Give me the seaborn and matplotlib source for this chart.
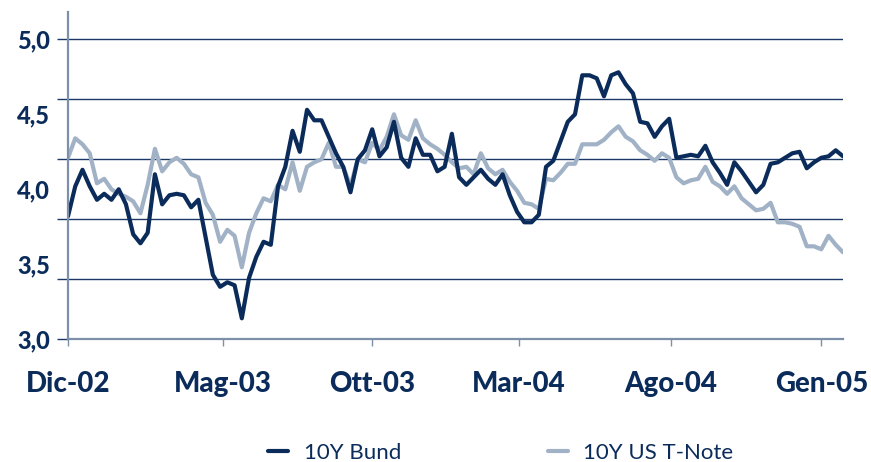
import numpy as np
import pandas as pd
import matplotlib
matplotlib.use("Agg")
import matplotlib.pyplot as plt
from matplotlib import font_manager
import seaborn as sns

# ---- data (weekly 10Y yields) ----
series_names = ["10Y Bund", "10Y US T-Note"]

bund = [3.82, 4.02, 4.13, 4.02, 3.93, 3.97, 3.93, 4.00, 3.90, 3.70,
        3.64, 3.71, 4.10, 3.90, 3.96, 3.97, 3.96, 3.88, 3.93, 3.68,
        3.43, 3.35, 3.38, 3.36, 3.14, 3.41, 3.55, 3.65, 3.63, 4.02,
        4.15, 4.39, 4.25, 4.53, 4.46, 4.46, 4.35, 4.24, 4.15, 3.98,
        4.20, 4.26, 4.40, 4.22, 4.28, 4.45, 4.21, 4.15, 4.34, 4.23,
        4.23, 4.12, 4.15, 4.37, 4.08, 4.03, 4.08, 4.13, 4.07, 4.03,
        4.10, 3.96, 3.85, 3.78, 3.78, 3.83, 4.15, 4.19, 4.32, 4.45,
        4.50, 4.76, 4.76, 4.74, 4.62, 4.76, 4.78, 4.70, 4.64, 4.45,
        4.44, 4.35, 4.42, 4.47, 4.21, 4.22, 4.23, 4.22, 4.29, 4.18,
        4.11, 4.03, 4.18, 4.12, 4.05, 3.98, 4.03, 4.17, 4.18, 4.21,
        4.24, 4.25, 4.14, 4.18, 4.21, 4.22, 4.26, 4.22]

tnote = [4.21, 4.34, 4.30, 4.24, 4.04, 4.07, 4.00, 3.97, 3.95, 3.92,
         3.84, 4.03, 4.27, 4.12, 4.18, 4.21, 4.17, 4.10, 4.08, 3.91,
         3.83, 3.65, 3.73, 3.69, 3.48, 3.71, 3.84, 3.94, 3.92, 4.03,
         4.00, 4.18, 3.99, 4.15, 4.18, 4.20, 4.31, 4.15, 4.15, 4.02,
         4.20, 4.18, 4.31, 4.26, 4.35, 4.50, 4.36, 4.33, 4.46, 4.34,
         4.30, 4.27, 4.23, 4.18, 4.14, 4.15, 4.10, 4.24, 4.14, 4.10,
         4.13, 4.05, 3.99, 3.91, 3.90, 3.87, 4.07, 4.06, 4.11, 4.17,
         4.17, 4.30, 4.30, 4.30, 4.33, 4.38, 4.42, 4.35, 4.32, 4.26,
         4.23, 4.19, 4.24, 4.21, 4.08, 4.04, 4.06, 4.07, 4.15, 4.05,
         4.02, 3.97, 4.02, 3.94, 3.90, 3.86, 3.87, 3.91, 3.78, 3.78,
         3.77, 3.75, 3.62, 3.62, 3.60, 3.69, 3.63, 3.58]

x_tick_labels = ["Dic-02", "Mag-03", "Ott-03", "Mar-04", "Ago-04", "Gen-05"]
x_tick_weeks = [0, 21.35, 42.03, 62.29, 83.28, 104.0]
y_tick_labels = ["3,0", "3,5", "4,0", "4,5", "5,0"]
y_tick_values = [3.0, 3.5, 4.0, 4.5, 5.0]
grid_values = [3.0, 3.4, 3.8, 4.2, 4.6, 5.0]

# ---- styling ----
NAVY = "#0b2c5b"
LIGHT = "#a1b2c6"
GRID = "#1c3866"
SPINE = "#7d90aa"

# heaviest Lato weight actually installed (black if present, else bold)
label_weight = "bold"
try:
    p = font_manager.findfont(font_manager.FontProperties(family="Lato", weight=900),
                              fallback_to_default=False)
    if "black" in p.lower() or "heavy" in p.lower():
        label_weight = 900
except Exception:
    pass

n = len(bund)
weeks = np.arange(n)
df = pd.DataFrame({
    "week": np.concatenate([weeks, weeks]),
    "yield": bund + tnote,
    "series": [series_names[0]] * n + [series_names[1]] * n,
})

sns.set_style("white")
plt.rcParams["font.family"] = ["Lato", "DejaVu Sans"]

W, H = 871, 462
fig = plt.figure(figsize=(W / 100, H / 100), dpi=100)
left, right, top, bottom = 68, 843, 12.3, 339.3
ax = fig.add_axes([left / W, (H - bottom) / H, (right - left) / W, (bottom - top) / H])
ax.yaxis.remove_overlapping_locs = False

sns.lineplot(data=df, x="week", y="yield", hue="series",
             hue_order=[series_names[1], series_names[0]],
             palette={series_names[0]: NAVY, series_names[1]: LIGHT},
             linewidth=3.0, ax=ax, legend=False)

ax.set_xlim(0, n - 1)
ax.set_ylim(3.0, 5.18)
ax.set_xlabel("")
ax.set_ylabel("")

# y axis: gridlines every 0.4, labels every 0.5
ax.set_yticks(grid_values)
ax.set_yticklabels([""] * len(grid_values))
ax.set_yticks(y_tick_values, minor=True)
ax.set_yticklabels(y_tick_labels, minor=True)
ax.tick_params(axis="y", which="major", left=True, length=8, width=1, color=GRID)
ax.tick_params(axis="y", which="minor", left=True, length=0, pad=13,
               labelsize=17, labelcolor=NAVY)

ax.grid(True, axis="y", which="major", color=GRID, linewidth=1)
ax.grid(False, axis="x")

ax.set_xticks(x_tick_weeks)
ax.set_xticklabels(x_tick_labels)
ax.tick_params(axis="x", bottom=True, length=5, width=1, color=SPINE,
               direction="out", pad=18, labelsize=20, labelcolor=NAVY)

for s in ["top", "right"]:
    ax.spines[s].set_visible(False)
for s in ["left", "bottom"]:
    ax.spines[s].set_color(SPINE)
    ax.spines[s].set_linewidth(1.6)
    ax.spines[s].set_zorder(3)

lines = ax.get_lines()
handles = [lines[1], lines[0]]
fig.legend(handles, series_names, loc="center left",
           bbox_to_anchor=(268 / W, 9 / H), ncol=2, frameon=False,
           fontsize=16, handlelength=0.9, handletextpad=0.7,
           columnspacing=6.6, borderpad=0, borderaxespad=0,
           labelcolor=NAVY)

fig.canvas.draw()
for t in ax.get_yticklabels(minor=True) + ax.get_xticklabels():
    t.set_fontweight(label_weight)

fig.savefig("out.png", dpi=100, facecolor="white")
